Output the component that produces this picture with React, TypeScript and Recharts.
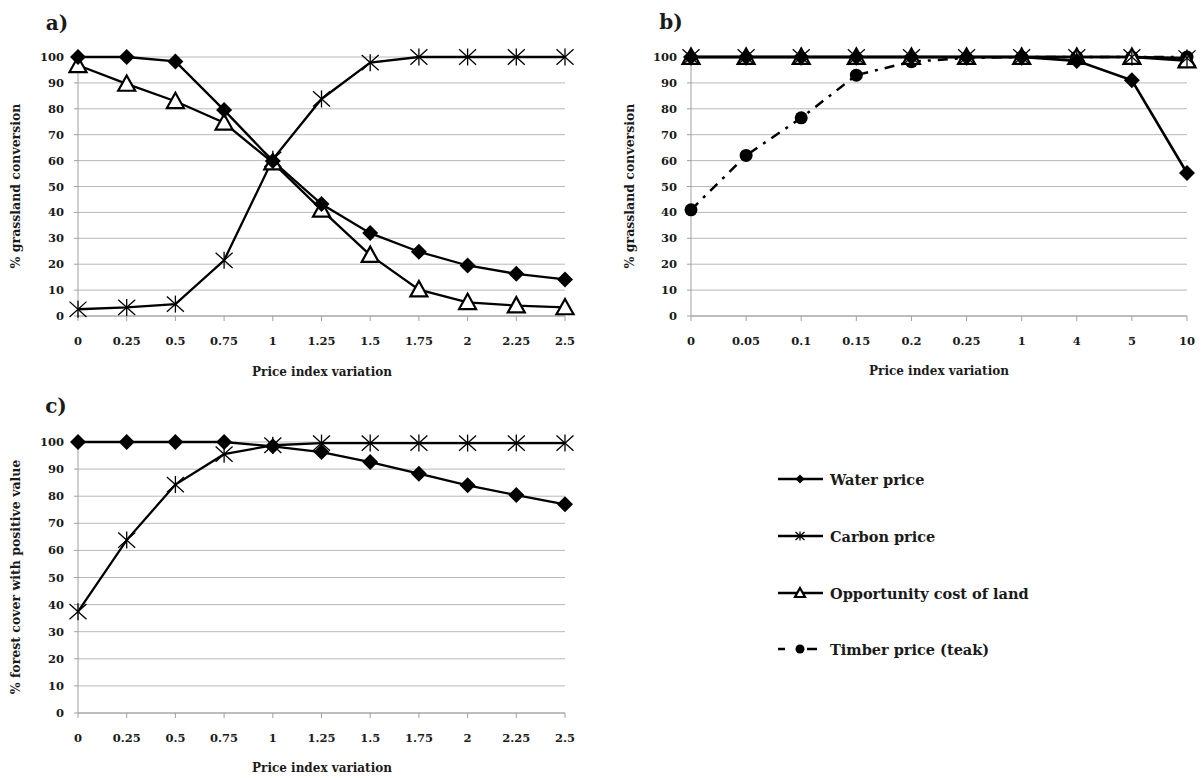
import React from "react";
import { LineChart, Line, XAxis, YAxis, CartesianGrid } from "recharts";

// panel a: grassland conversion vs price index
const priceStepsA = ["0", "0.25", "0.5", "0.75", "1", "1.25", "1.5", "1.75", "2", "2.25", "2.5"];
const waterA = [100, 100, 98.3, 79.5, 59.8, 43.2, 32, 24.8, 19.5, 16.3, 14.1];
const carbonA = [2.6, 3.3, 4.6, 21.5, 60.5, 83.8, 97.8, 100, 100, 100, 100];
const opportunityA = [96.8, 89.6, 82.9, 74.6, 59.2, 41, 23.5, 10.2, 5.3, 4, 3.3];

// panel b
const priceStepsB = ["0", "0.05", "0.1", "0.15", "0.2", "0.25", "1", "4", "5", "10"];
const waterB = [100, 100, 100, 100, 100, 100, 100, 98.5, 91, 55.2];
const carbonB = [100, 100, 100, 100, 100, 100, 100, 100, 100, 99.6];
const opportunityB = [100, 100, 100, 100, 100, 100, 100, 100, 100, 98.6];
const timberB = [41, 62, 76.5, 93, 98.2, 99.6, 100, 100, 100, 100];

// panel c: forest cover with positive value
const priceStepsC = ["0", "0.25", "0.5", "0.75", "1", "1.25", "1.5", "1.75", "2", "2.25", "2.5"];
const waterC = [100, 100, 100, 100, 98.4, 96.3, 92.6, 88.3, 84, 80.4, 77];
const carbonC = [37.4, 63.8, 84.3, 95.5, 98.8, 99.6, 99.6, 99.6, 99.6, 99.6, 99.6];

const yTicks = [0, 10, 20, 30, 40, 50, 60, 70, 80, 90, 100];

const legendItems = ["Water price", "Carbon price", "Opportunity cost of land", "Timber price (teak)"];

const FONT = "'DejaVu Serif', serif";
const INK = "#1a1a1a";
const GRID = "#b8b8b8";
const AXIS = "#a0a0a0";

const tickStyle = { fontFamily: FONT, fontWeight: 700, fontSize: 11.5, fill: INK };

// marker size comes from `s`; recharts overrides `r` on cloned dots
function Diamond(props: any) {
  const { cx, cy, index, s = 8 } = props;
  if (cx == null || cy == null) return <g key={index} />;
  return (
    <polygon
      key={index}
      points={`${cx},${cy - s} ${cx + s},${cy} ${cx},${cy + s} ${cx - s},${cy}`}
      fill="#000"
    />
  );
}

function Asterisk(props: any) {
  const { cx, cy, index, s = 8.5 } = props;
  if (cx == null || cy == null) return <g key={index} />;
  return (
    <g key={index} stroke="#000" strokeWidth={1.3}>
      <line x1={cx - s} y1={cy - s * 0.9} x2={cx + s} y2={cy + s * 0.9} />
      <line x1={cx - s} y1={cy + s * 0.9} x2={cx + s} y2={cy - s * 0.9} />
      <line x1={cx} y1={cy - s} x2={cx} y2={cy + s} />
    </g>
  );
}

function Triangle(props: any) {
  const { cx, cy, index, s = 8.5 } = props;
  if (cx == null || cy == null) return <g key={index} />;
  return (
    <polygon
      key={index}
      points={`${cx},${cy - s} ${cx + s},${cy + s * 0.8} ${cx - s},${cy + s * 0.8}`}
      fill="#fff"
      stroke="#000"
      strokeWidth={2.2}
      strokeLinejoin="miter"
    />
  );
}

function Dot(props: any) {
  const { cx, cy, index, s = 6.5 } = props;
  if (cx == null || cy == null) return <g key={index} />;
  return <circle key={index} cx={cx} cy={cy} r={s} fill="#000" />;
}

function Panel({ left, top, width, height, margin, yWidth, xHeight, data, children }: any) {
  return (
    <div style={{ position: "absolute", left, top }}>
      <LineChart width={width} height={height} data={data} margin={margin}>
        <CartesianGrid horizontal vertical={false} stroke={GRID} strokeWidth={1} />
        <XAxis
          dataKey="x"
          interval={0}
          tick={tickStyle}
          tickSize={5}
          tickMargin={16}
          height={xHeight}
          axisLine={{ stroke: AXIS }}
          tickLine={{ stroke: AXIS }}
        />
        <YAxis
          domain={[0, 100]}
          ticks={yTicks}
          interval={0}
          width={yWidth}
          tick={tickStyle}
          tickSize={4}
          tickMargin={10}
          axisLine={{ stroke: AXIS }}
          tickLine={{ stroke: AXIS }}
        />
        {children}
      </LineChart>
    </div>
  );
}

function Text({ x, y, size, rotate, children }: any) {
  return (
    <div
      style={{
        position: "absolute",
        left: x,
        top: y,
        transform: `translate(-50%, -50%)${rotate ? " rotate(-90deg)" : ""}`,
        fontFamily: FONT,
        fontWeight: 700,
        fontSize: size,
        color: INK,
        whiteSpace: "nowrap",
        lineHeight: 1,
      }}
    >
      {children}
    </div>
  );
}

function LegendIcon({ kind }: { kind: number }) {
  if (kind === 3) {
    return (
      <svg width={46} height={20}>
        <line x1={0} y1={10} x2={7} y2={10} stroke="#000" strokeWidth={2.5} />
        <circle cx={22} cy={10} r={4.5} fill="#000" />
        <line x1={29} y1={10} x2={39} y2={10} stroke="#000" strokeWidth={2.5} />
      </svg>
    );
  }
  return (
    <svg width={46} height={20}>
      <line x1={0} y1={10} x2={45} y2={10} stroke="#000" strokeWidth={2.5} />
      {kind === 0 && <Diamond cx={22} cy={10} s={4.5} />}
      {kind === 1 && <Asterisk cx={22} cy={10} s={4.5} />}
      {kind === 2 && <Triangle cx={22} cy={10} s={5} />}
    </svg>
  );
}

export default function App() {
  const dataA = priceStepsA.map((x, i) => ({ x, water: waterA[i], carbon: carbonA[i], opportunity: opportunityA[i] }));
  const dataB = priceStepsB.map((x, i) => ({
    x,
    water: waterB[i],
    carbon: carbonB[i],
    opportunity: opportunityB[i],
    timber: timberB[i],
  }));
  const dataC = priceStepsC.map((x, i) => ({ x, water: waterC[i], carbon: carbonC[i] }));

  const lineProps = { stroke: "#000", strokeWidth: 2.3, isAnimationActive: false, activeDot: false as const };

  return (
    <div style={{ position: "absolute", left: 0, top: 0, width: 1202, height: 778, background: "#fff" }}>
      <Panel
        left={0}
        top={0}
        width={580}
        height={390}
        margin={{ top: 57, right: 15, left: 0, bottom: 0 }}
        yWidth={78}
        xHeight={74}
        data={dataA}
      >
        <Line dataKey="opportunity" {...lineProps} dot={<Triangle />} />
        <Line dataKey="carbon" {...lineProps} dot={<Asterisk />} />
        <Line dataKey="water" {...lineProps} dot={<Diamond />} />
      </Panel>

      <Panel
        left={600}
        top={0}
        width={600}
        height={390}
        margin={{ top: 57, right: 13, left: 0, bottom: 0 }}
        yWidth={91}
        xHeight={74}
        data={dataB}
      >
        <Line
          dataKey="timber"
          {...lineProps}
          strokeWidth={2.5}
          strokeDasharray="10 7 3 7"
          dot={<Dot />}
        />
        <Line dataKey="opportunity" {...lineProps} strokeWidth={2.6} dot={<Triangle />} />
        <Line dataKey="carbon" {...lineProps} strokeWidth={2.6} dot={<Asterisk />} />
        <Line dataKey="water" {...lineProps} strokeWidth={2.6} dot={<Diamond />} />
      </Panel>

      <Panel
        left={0}
        top={390}
        width={580}
        height={388}
        margin={{ top: 52, right: 15, left: 0, bottom: 0 }}
        yWidth={78}
        xHeight={65}
        data={dataC}
      >
        <Line dataKey="carbon" {...lineProps} dot={<Asterisk />} />
        <Line dataKey="water" {...lineProps} dot={<Diamond />} />
      </Panel>

      <Text x={57} y={23} size={20}>a)</Text>
      <Text x={671} y={22} size={20}>b)</Text>
      <Text x={56} y={406} size={20}>c)</Text>

      <Text x={322} y={372} size={12}>Price index variation</Text>
      <Text x={939} y={371} size={12}>Price index variation</Text>
      <Text x={322} y={768} size={12}>Price index variation</Text>

      <Text x={16} y={186} size={12.5} rotate>% grassland conversion</Text>
      <Text x={630} y={186} size={12.5} rotate>% grassland conversion</Text>
      <Text x={16} y={577} size={12.5} rotate>% forest cover with positive value</Text>

      {legendItems.map((name, i) => (
        <div
          key={name}
          style={{
            position: "absolute",
            left: 778,
            top: [479, 536, 593, 649][i] - 10,
            height: 20,
            display: "flex",
            alignItems: "center",
            gap: 6,
            fontFamily: FONT,
            fontWeight: 700,
            fontSize: 14.5,
            color: INK,
            whiteSpace: "nowrap",
          }}
        >
          <LegendIcon kind={i} />
          <span>{name}</span>
        </div>
      ))}
    </div>
  );
}
